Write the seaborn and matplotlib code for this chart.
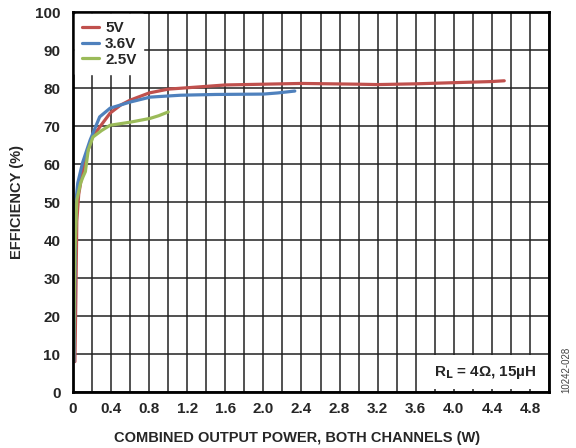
import pandas as pd
import seaborn as sns
import matplotlib.pyplot as plt

# curves
p_5v = [0.02, 0.03, 0.04, 0.06, 0.1, 0.15, 0.2, 0.28, 0.39, 0.5, 0.6, 0.8, 1.0, 1.33, 1.6,
        2.0, 2.4, 3.0, 3.2, 3.6, 4.0, 4.4, 4.53]
e_5v = [8, 25, 45, 52, 58, 63, 67, 69.7, 73.4, 75.5, 76.8, 78.7, 79.7, 80.3, 80.8,
        81.0, 81.2, 81.0, 80.9, 81.1, 81.4, 81.7, 81.9]

p_36v = [0.01, 0.02, 0.03, 0.05, 0.1, 0.18, 0.28, 0.39, 0.6, 0.81, 1.0, 1.13, 1.5, 2.0, 2.15, 2.33]
e_36v = [8, 30, 50, 55, 60.3, 66.3, 72.4, 74.7, 76.3, 77.6, 77.9, 78.1, 78.3, 78.4, 78.7, 79.2]

p_25v = [0.005, 0.02, 0.04, 0.08, 0.105, 0.13, 0.16, 0.21, 0.3, 0.39, 0.6, 0.81, 0.9, 1.0]
e_25v = [8, 37, 50.5, 55, 56.6, 58, 63.7, 67.1, 68.8, 70.2, 71, 72, 72.7, 73.7]

labels = ['5V', '3.6V', '2.5V']
colors = ['#C0504D', '#4F81BD', '#9BBB59']

frames = []
for lab, xs, ys in zip(labels, [p_5v, p_36v, p_25v], [e_5v, e_36v, e_25v]):
    frames.append(pd.DataFrame({'power': xs, 'eff': ys, 'supply': lab}))
df = pd.concat(frames)

sns.set_style('white')
plt.rcParams['font.family'] = ['Liberation Sans', 'DejaVu Sans']
plt.rcParams['font.weight'] = 'bold'

fig = plt.figure(figsize=(5.76, 4.48), dpi=100)
ax = fig.add_axes([73 / 576, 56 / 448, 476 / 576, 380 / 448])

sns.lineplot(data=df, x='power', y='eff', hue='supply', palette=colors,
             sort=False, linewidth=2.3, ax=ax, estimator=None)

ax.set_xlim(0, 5.0)
ax.set_ylim(0, 100)
ax.set_xticks([i * 0.2 for i in range(26)], minor=True)
xt = [0, 0.4, 0.8, 1.2, 1.6, 2.0, 2.4, 2.8, 3.2, 3.6, 4.0, 4.4, 4.8]
ax.set_xticks(xt)
ax.set_xticklabels(['0', '0.4', '0.8', '1.2', '1.6', '2.0', '2.4', '2.8', '3.2', '3.6', '4.0', '4.4', '4.8'])
ax.set_yticks(range(0, 101, 10))
ax.grid(True, which='both', color='#222222', linewidth=1.1)
ax.set_axisbelow(True)
ax.tick_params(labelsize=11, length=0, pad=7)
ax.tick_params(axis='y', length=4, width=1.1, color='#222222', direction='out', pad=5)
for s in ax.spines.values():
    s.set_color('black')
    s.set_linewidth(2)

ax.set_xlabel('COMBINED OUTPUT POWER, BOTH CHANNELS (W)', fontsize=10.5, fontweight='bold', labelpad=11)
ax.xaxis.label.set_x(0.47)
ax.set_ylabel('EFFICIENCY (%)', fontsize=10.5, fontweight='bold', labelpad=8)

leg = ax.legend(title=None, loc='upper left', frameon=True, fancybox=False,
                edgecolor='white', framealpha=1, fontsize=11, handlelength=1.1,
                handletextpad=0.4, borderaxespad=0.15, labelspacing=0.12, borderpad=0.45)
for t in leg.get_texts():
    t.set_fontweight('bold')

ax.text(0.975, 0.03, r'R$_\mathbf{L}$ = 4Ω, 15µH', transform=ax.transAxes, ha='right', va='bottom',
        fontsize=11, fontweight='bold',
        bbox=dict(facecolor='white', edgecolor='none', pad=6))
fig.text(0.983, 0.175, '10242-028', rotation=90, fontsize=7, color='#444444', fontweight='normal',
         ha='center', va='center')

fig.savefig('out.png', dpi=100)
